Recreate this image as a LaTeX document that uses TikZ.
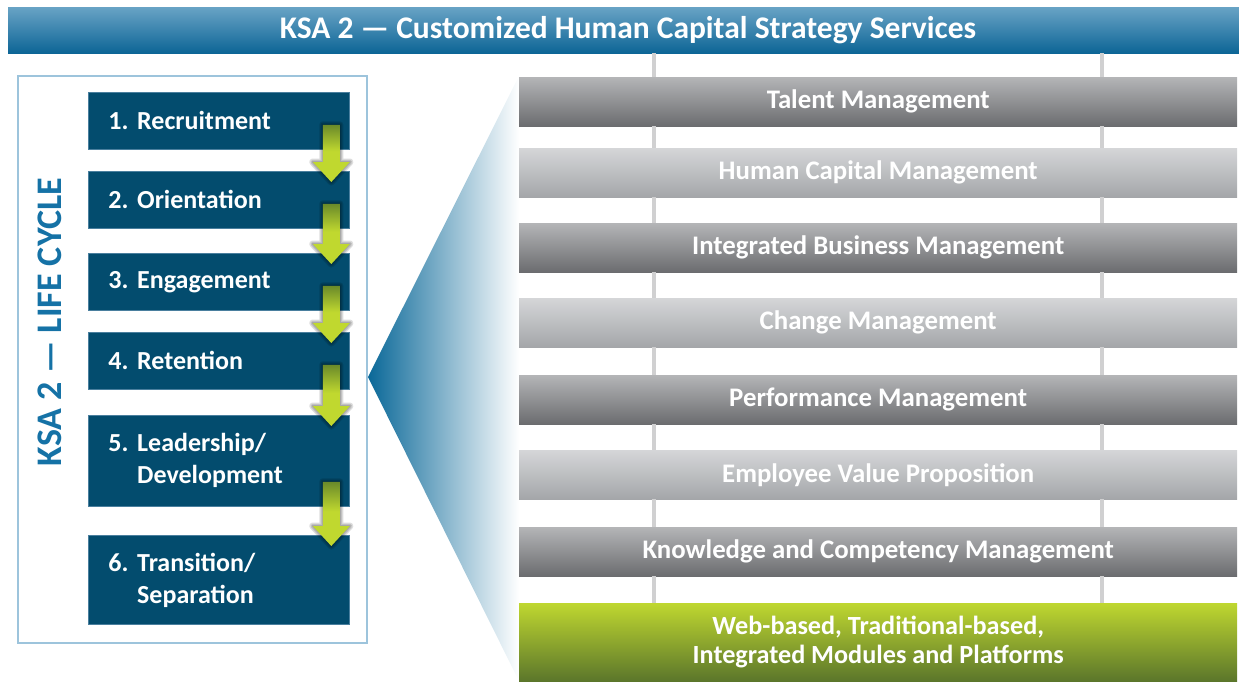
\documentclass[tikz,border=0pt]{standalone}
\usepackage{fontspec}
\setmainfont{Carlito}
\usetikzlibrary{calc}

\definecolor{titletop}{HTML}{68A3C5}
\definecolor{titlebot}{HTML}{0D6596}
\definecolor{boxblue}{HTML}{034C6E}
\definecolor{boxedge}{HTML}{4A7F9E}
\definecolor{framecol}{HTML}{9DC4DC}
\definecolor{ksablue}{HTML}{1572A6}
\definecolor{fanblue}{HTML}{0A6898}
\definecolor{fanmid}{HTML}{A6CBDD}
\definecolor{railgray}{HTML}{D0D0D1}
\definecolor{darktop}{HTML}{B4B5B7}
\definecolor{darkbot}{HTML}{6B6C6F}
\definecolor{lighttop}{HTML}{D5D6D8}
\definecolor{lightbot}{HTML}{A4A6A9}
\definecolor{greentop}{HTML}{BFD730}
\definecolor{greenbot}{HTML}{5B762B}
\definecolor{arrowdark}{HTML}{6A8A2A}
\definecolor{arrowlime}{HTML}{C0D82F}

% arrow fill: dark olive at the top of the shaft, bright lime from mid-shaft down
\pgfdeclareverticalshading{lifearrowshade}{100bp}{%
  color(0bp)=(arrowlime); color(25bp)=(arrowlime); color(52bp)=(arrowlime);
  color(75bp)=(arrowdark); color(100bp)=(arrowdark)}

% green step arrow from one life-cycle box into the next
\newcommand\lifearrow[2]{%
  \def\lcpath{($(#1.south east)+(-27,-25)$) -- ($(#1.south east)+(-10,-25)$)
    -- ($(#2.north east)+(-10,-9)$) -- ($(#2.north east)+(0,-9)$)
    -- ($(#2.north east)+(-18.5,11)$) -- ($(#2.north east)+(-37,-9)$)
    -- ($(#2.north east)+(-27,-9)$) -- cycle}%
  \foreach \w in {7,4.5,2}{\draw[black,opacity=0.13,line width=\w pt,line join=round] \lcpath;}
  \shade[shading=lifearrowshade] \lcpath;%
}

\begin{document}
\frenchspacing
\begin{tikzpicture}[x=1pt,y=-1pt,
  lcbox/.style={fill=boxblue,draw=boxedge,line width=0.8pt,text=white,
    font=\bfseries\fontsize{26}{32}\selectfont,text width=221pt,inner xsep=20pt,
    align=left,anchor=north west},
  bar/.style={minimum width=718pt,minimum height=49pt,anchor=north west,
    text=white,font=\bfseries\fontsize{26.8}{29}\selectfont,align=center,inner sep=0pt},
  darkbar/.style={bar,top color=darktop,bottom color=darkbot},
  lightbar/.style={bar,top color=lighttop,bottom color=lightbot},
  rail/.style={railgray,line width=4pt}]
\useasboundingbox (0,0) rectangle (1239,681);

% heading band
\node[anchor=north west,minimum width=1231pt,minimum height=46pt,inner sep=0pt,
  top color=titletop,bottom color=titlebot] (titlebar) at (8,7) {};
\node[text=white,font=\bfseries\fontsize{31.5}{34}\selectfont] (title) at (628,30)
  {KSA 2 — Customized Human Capital Strategy Services};

% fan linking the life cycle to the services
\shade[left color=fanblue,middle color=fanmid,right color=white]
  (368,377) -- (519,76) -- (519,681) -- cycle;

% service stack
\node[darkbar]  (s1) at (519,77)  {Talent Management};
\node[lightbar] (s2) at (519,148) {Human Capital Management};
\node[darkbar]  (s3) at (519,223) {Integrated Business Management};
\node[lightbar] (s4) at (519,298) {Change Management};
\node[darkbar]  (s5) at (519,375) {Performance Management};
\node[lightbar] (s6) at (519,450) {Employee Value Proposition};
\node[darkbar]  (s7) at (519,527) {Knowledge and Competency Management};
\node[bar,minimum height=78pt,top color=greentop,bottom color=greenbot,
  font=\bfseries\fontsize{26.2}{29}\selectfont] (web) at (519,603)
  {Web-based, Traditional-based,\\Integrated Modules and Platforms};

% vertical rails between the stacked bars
\foreach \s/\t in {titlebar/s1,s1/s2,s2/s3,s3/s4,s4/s5,s5/s6,s6/s7,s7/web}{
  \draw[rail] (\s.south -| 653.5,0) -- (\t.north -| 653.5,0);
  \draw[rail] (\s.south -| 1101.5,0) -- (\t.north -| 1101.5,0);
}

% life cycle frame
\node[draw=framecol,line width=2.2pt,fill=white,anchor=north west,
  minimum width=349pt,minimum height=567pt,inner sep=0pt] (frame) at (17,75) {};
\node[rotate=90,text=ksablue,font=\bfseries\fontsize{36}{40}\selectfont] (ksa)
  at (50,322) {KSA 2 — LIFE CYCLE};

\node[lcbox,minimum height=57pt] (b1) at (88,92)  {1. Recruitment};
\node[lcbox,minimum height=57pt] (b2) at (88,171) {2. Orientation};
\node[lcbox,minimum height=57pt] (b3) at (88,253) {3. Engagement};
\node[lcbox,minimum height=57pt] (b4) at (88,332) {4. Retention};
\node[lcbox,minimum height=91pt] (b5) at (88,415) {5. Leadership/\\\hphantom{5. }Development};
\node[lcbox,minimum height=89pt] (b6) at (88,535) {6. Transition/\\\hphantom{6. }Separation};

\lifearrow{b1}{b2}
\lifearrow{b2}{b3}
\lifearrow{b3}{b4}
\lifearrow{b4}{b5}
\lifearrow{b5}{b6}
\end{tikzpicture}
\end{document}
